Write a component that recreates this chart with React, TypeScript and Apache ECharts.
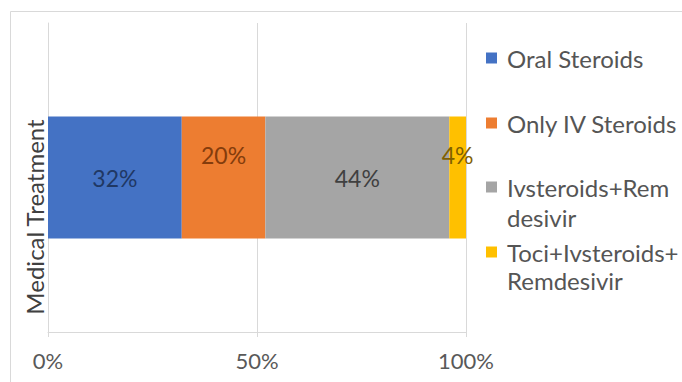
import React, { useEffect, useRef } from "react";
import * as echarts from "echarts";

const categories = ["Medical Treatment"];
const seriesNames = [
  "Oral Steroids",
  "Only IV Steroids",
  "Ivsteroids+Remdesivir",
  "Toci+Ivsteroids+Remdesivir",
];
const legendFirstLines = ["Oral Steroids", "Only IV Steroids", "Ivsteroids+Rem", "Toci+Ivsteroids+"];
const legendSecondLines = ["", "", "desivir", "Remdesivir"];
const values = [32, 20, 44, 4];
const xTicks = { min: 0, max: 100, interval: 50 };

const colors = ["#4472C4", "#ED7D31", "#A5A5A5", "#FFC000"];
const labelColors = ["#203864", "#843C0C", "#404040", "#7F6000"];
const labelOffsets = [[0, 0], [0, -23], [0, 0], [0, -23]];
const legendCenters = [58, 123, 187, 252];
const secondLineY = [0, 0, 217, 280];
const FONT = "Lato";

export default function App() {
  const ref = useRef<HTMLDivElement>(null);
  useEffect(() => {
    if (!ref.current) return;
    const chart = echarts.init(ref.current, undefined, { renderer: "svg" });
    const legends = seriesNames.map((name, i) => ({
      data: [name],
      left: 486,
      top: legendCenters[i] - 14,
      orient: "vertical",
      padding: 0,
      icon: "rect",
      itemWidth: 11,
      itemHeight: 11,
      selectedMode: false,
      formatter: () => legendFirstLines[i],
      textStyle: {
        fontFamily: FONT,
        fontSize: 24,
        color: "#555555",
        lineHeight: 28,
        padding: [0, 0, 0, 5],
      },
    }));
    const graphics: any[] = [
      {
        type: "rect",
        shape: { x: 10.5, y: 11.5, width: 700, height: 400 },
        style: { fill: "none", stroke: "#D9D9D9", lineWidth: 1 },
        silent: true,
      },
      {
        type: "text",
        x: 34,
        y: 217,
        rotation: Math.PI / 2,
        style: {
          text: categories[0],
          fontFamily: FONT,
          fontSize: 24,
          fill: "#404040",
          align: "center",
          verticalAlign: "middle",
        },
      },
    ];
    legendSecondLines.forEach((t, i) => {
      if (!t) return;
      graphics.push({
        type: "text",
        x: 507,
        y: secondLineY[i],
        style: {
          text: t,
          fontFamily: FONT,
          fontSize: 24,
          fill: "#555555",
          align: "left",
          verticalAlign: "middle",
        },
      });
    });
    chart.setOption({
      animation: false,
      legend: legends,
      grid: { left: 48, right: 216, top: 23, bottom: 50, containLabel: false },
      xAxis: {
        type: "value",
        min: xTicks.min,
        max: xTicks.max,
        interval: xTicks.interval,
        axisLabel: {
          formatter: "{value}%",
          color: "#595959",
          fontFamily: FONT,
          fontSize: 22,
          margin: 17,
        },
        axisLine: { show: true, lineStyle: { color: "#D9D9D9", width: 1 } },
        axisTick: { show: true, length: 5, lineStyle: { color: "#D9D9D9" } },
        splitLine: { show: true, lineStyle: { color: "#D9D9D9", width: 1 } },
      },
      yAxis: {
        type: "category",
        data: categories,
        axisLine: { show: true, lineStyle: { color: "#D9D9D9", width: 1 } },
        axisTick: { show: false },
        axisLabel: { show: false },
      },
      graphic: graphics,
      series: seriesNames.map((name, i) => ({
        name,
        type: "bar",
        stack: "total",
        barWidth: 122,
        itemStyle: { color: colors[i] },
        label: {
          show: true,
          position: "inside",
          formatter: "{c}%",
          color: labelColors[i],
          fontFamily: FONT,
          fontSize: 23,
          offset: labelOffsets[i],
        },
        data: [values[i]],
      })),
    });
    return () => chart.dispose();
  }, []);
  return (
    <div
      ref={ref}
      style={{ position: "fixed", left: 0, top: 0, width: 682, height: 382, background: "#fff" }}
    />
  );
}
